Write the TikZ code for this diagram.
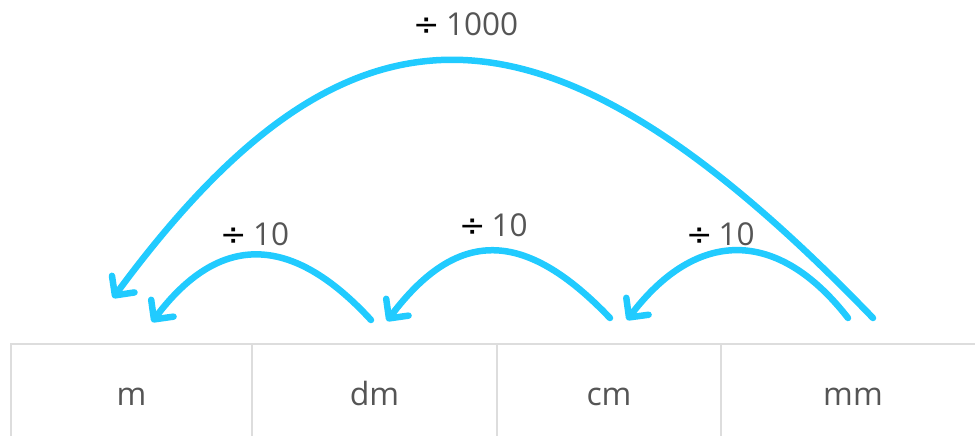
\documentclass[tikz,border=0pt]{standalone}
\usepackage{fontspec}
\setmainfont{Open Sans}
\newfontfamily\symfont{DejaVu Sans}
\usetikzlibrary{arrows.meta}
\definecolor{arccol}{RGB}{33,203,255}
\definecolor{txtcol}{RGB}{85,85,85}
\definecolor{gridcol}{RGB}{221,221,221}
\newcommand{\divsign}{\textcolor{black}{\symfont ÷}}
\begin{document}
\begin{tikzpicture}[x=1pt,y=-1pt,
  cell/.style={draw=gridcol,line width=2pt,minimum height=105pt,text height=24pt,text depth=6pt,inner sep=0pt,font=\fontsize{32}{38}\selectfont,text=txtcol},
  jump/.style={draw=arccol,line width=6.5pt,line cap=round,-{Straight Barb[length=14pt,width=28pt,line cap=round,line join=round]}},
  lbl/.style={anchor=base,font=\fontsize{31.5}{36}\selectfont,text=txtcol,inner sep=0pt}]
\useasboundingbox (0,0) rectangle (975,436);
\clip (0,0) rectangle (975,436);
% table
\node[cell,minimum width=241pt] (m) at (131.5,396) {m};
\node[cell,minimum width=245pt] (dm) at (374.5,396) {dm};
\node[cell,minimum width=224pt] (cm) at (609,396) {cm};
\node[cell,minimum width=264pt] (mm) at (853,396) {mm};
% labels
\node[lbl] (l1000) at (466,36) {\divsign\hspace{0.18em}1000};
\node[lbl] (lten1) at (255,245) {\divsign\hspace{0.18em}10};
\node[lbl] (lten2) at (493.5,236) {\divsign\hspace{0.18em}10};
\node[lbl] (lten3) at (720.5,245) {\divsign\hspace{0.18em}10};
% arc end points
\coordinate (s1) at (873,318); \coordinate (e1) at (113,298);
\coordinate (s2) at (848,318); \coordinate (e2) at (627,320);
\coordinate (s3) at (610,318); \coordinate (e3) at (387,321);
\coordinate (s4) at (371,320); \coordinate (e4) at (152,322);
\draw[jump] (s1) .. controls (545,-22) and (349,-22) .. (e1);
\draw[jump] (s2) .. controls (778,228) and (697,228) .. (e2);
\draw[jump] (s3) .. controls (524,228) and (457,228) .. (e3);
\draw[jump] (s4) .. controls (291,233) and (219,233) .. (e4);
\end{tikzpicture}
\end{document}
